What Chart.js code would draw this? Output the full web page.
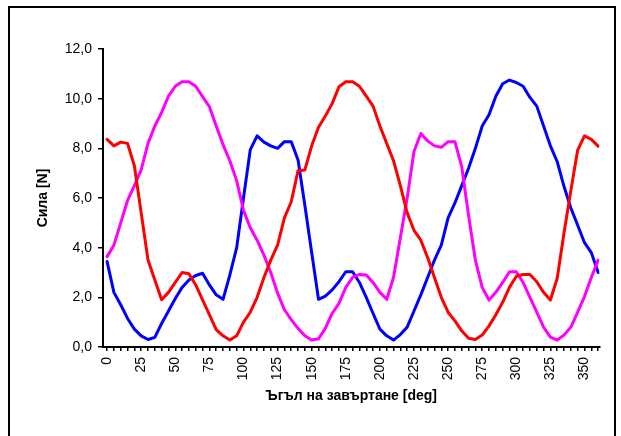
<!DOCTYPE html>
<html>
<head>
<meta charset="utf-8">
<script src="https://cdn.jsdelivr.net/npm/chart.js@4.4.1/dist/chart.umd.min.js"></script>
<style>
  body { margin: 0; background: #fff; }
  #wrap { width: 621px; height: 436px; }
</style>
</head>
<body>
<div id="wrap"><canvas id="grafSila" width="621" height="436"></canvas></div>
<script>
// ъгъл на завъртане през 5 deg
var ugli = [0, 5, 10, 15, 20, 25, 30, 35, 40, 45, 50, 55, 60, 65, 70, 75, 80, 85, 90, 95,
    100, 105, 110, 115, 120, 125, 130, 135, 140, 145, 150, 155, 160, 165, 170, 175, 180, 185, 190, 195,
    200, 205, 210, 215, 220, 225, 230, 235, 240, 245, 250, 255, 260, 265, 270, 275, 280, 285, 290, 295,
    300, 305, 310, 315, 320, 325, 330, 335, 340, 345, 350, 355, 360];

var silaChervena = [8.36, 8.1, 8.25, 8.2, 7.3, 5.4, 3.5, 2.7, 1.9, 2.2, 2.6, 3.0, 2.95, 2.5, 1.9, 1.3, 0.7, 0.45, 0.28, 0.45,
    1.0, 1.4, 2.0, 2.8, 3.5, 4.1, 5.2, 5.85, 7.1, 7.13, 8.1, 8.85, 9.3, 9.8, 10.48, 10.68, 10.68, 10.5, 10.1, 9.7,
    8.9, 8.2, 7.5, 6.5, 5.4, 4.7, 4.3, 3.6, 2.8, 2.0, 1.4, 1.05, 0.65, 0.35, 0.3, 0.48, 0.85, 1.3, 1.8, 2.4,
    2.85, 2.92, 2.92, 2.63, 2.2, 1.89, 2.77, 4.6, 6.3, 7.93, 8.5, 8.36, 8.09];

var silaRozova = [3.64, 4.1, 5.0, 5.9, 6.5, 7.13, 8.2, 8.9, 9.45, 10.1, 10.5, 10.68, 10.68, 10.5, 10.08, 9.68, 8.9, 8.15, 7.5, 6.7,
    5.5, 4.8, 4.3, 3.7, 3.0, 2.17, 1.5, 1.1, 0.75, 0.45, 0.28, 0.33, 0.75, 1.35, 1.76, 2.4, 2.8, 2.92, 2.9, 2.6,
    2.2, 1.92, 2.8, 4.4, 6.0, 7.87, 8.6, 8.3, 8.1, 8.04, 8.27, 8.27, 7.26, 5.3, 3.5, 2.4, 1.89, 2.2, 2.6, 3.03,
    3.03, 2.6, 2.0, 1.4, 0.8, 0.4, 0.28, 0.48, 0.8, 1.4, 2.03, 2.8, 3.5];

var silaSinya = [3.44, 2.2, 1.7, 1.15, 0.72, 0.45, 0.3, 0.39, 0.95, 1.45, 1.95, 2.4, 2.7, 2.88, 2.97, 2.5, 2.1, 1.92, 2.9, 4.0,
    6.0, 7.95, 8.5, 8.25, 8.1, 8.0, 8.27, 8.27, 7.53, 5.7, 3.8, 1.92, 2.05, 2.3, 2.63, 3.03, 3.03, 2.6, 2.0, 1.35,
    0.72, 0.45, 0.28, 0.5, 0.8, 1.45, 2.1, 2.8, 3.5, 4.1, 5.2, 5.8, 6.5, 7.2, 8.0, 8.9, 9.35, 10.1, 10.6, 10.75,
    10.65, 10.5, 10.05, 9.7, 8.9, 8.1, 7.46, 6.46, 5.6, 4.9, 4.2, 3.8, 3.0];

var xTikove = ugli; // малки деления на всеки 5 deg, надпис на всеки 25
var yTikove = [0, 2, 4, 6, 8, 10, 12];

function tochki(arr) {
    var t = [];
    for (var i = 0; i < arr.length; i++) {
        t.push({ x: ugli[i], y: arr[i] });
    }
    return t;
}

Chart.defaults.font.family = "'Liberation Sans', Arial, sans-serif";
Chart.defaults.font.size = 14;
Chart.defaults.color = "#000";

// бял фон и рамка около диаграмата
const ramka = {
    id: 'ramka',
    beforeDraw(chart) {
        const c = chart.ctx;
        c.save();
        c.fillStyle = "#fff";
        c.fillRect(0, 0, chart.width, chart.height);
        c.strokeStyle = "#000";
        c.lineWidth = 2;
        c.strokeRect(9, 7, 606, 440);
        c.restore();
    }
};

const ctxSila = document.getElementById('grafSila').getContext('2d');
const grafSila = new Chart(ctxSila, {
    type: 'line',
    data: {
        datasets: [{
            data: tochki(silaChervena),
            borderColor: "rgb(255,0,0)",
            borderWidth: 3
        }, {
            data: tochki(silaRozova),
            borderColor: "rgb(255,0,255)",
            borderWidth: 3
        }, {
            data: tochki(silaSinya),
            borderColor: "rgb(0,0,255)",
            borderWidth: 3
        }]
    },
    options: {
        responsive: false,
        animation: false,
        events: [],
        layout: { padding: { left: 0, top: 49, right: 20, bottom: 0 } },
        elements: {
            point: { radius: 0 },
            line: { tension: 0, borderCapStyle: 'round', borderJoinStyle: 'round' }
        },
        plugins: {
            legend: { display: false },
            tooltip: { enabled: false }
        },
        scales: {
            x: {
                type: 'linear',
                min: -3,
                max: 361,
                afterBuildTicks: function(s) {
                    s.ticks = xTikove.map(v => ({ value: v }));
                },
                afterFit: function(s) { s.height = 89; },
                border: { color: "#000", width: 2 },
                grid: { drawOnChartArea: false, drawTicks: true, tickLength: 4, color: "#000", lineWidth: 1.5 },
                ticks: {
                    autoSkip: false,
                    minRotation: 90,
                    maxRotation: 90,
                    padding: 6,
                    callback: function(v) { return v % 25 === 0 ? String(v) : ''; }
                },
                title: {
                    display: true,
                    text: 'Ъгъл на завъртане [deg]',
                    font: { size: 14, weight: 'bold' },
                    padding: { top: 0, bottom: 31 }
                }
            },
            y: {
                min: 0,
                max: 12,
                afterBuildTicks: function(s) {
                    s.ticks = yTikove.map(v => ({ value: v }));
                },
                afterFit: function(s) { s.width = 103; },
                border: { color: "#000", width: 2 },
                grid: { drawOnChartArea: false, drawTicks: true, tickLength: 5, color: "#000", lineWidth: 1.5 },
                ticks: {
                    padding: 6,
                    callback: function(v) { return v.toFixed(1).replace('.', ','); }
                },
                title: {
                    display: true,
                    text: 'Сила [N]',
                    font: { size: 14, weight: 'bold' },
                    padding: { top: 35, bottom: 0 }
                }
            }
        }
    },
    plugins: [ramka]
});
</script>
</body>
</html>
